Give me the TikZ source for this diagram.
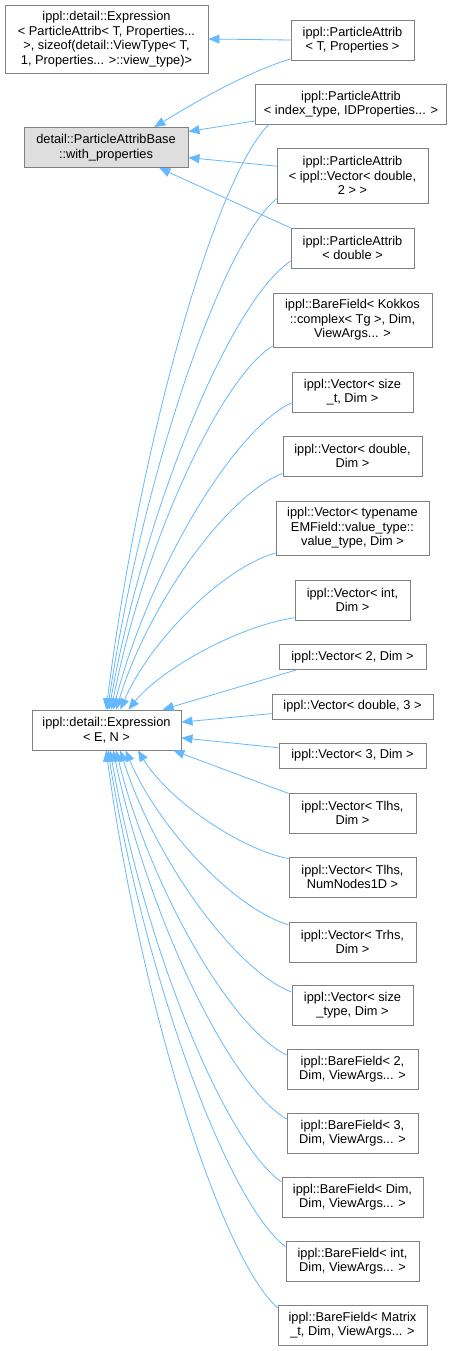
\documentclass[tikz,border=0pt]{standalone}
\usepackage{fontspec}
\setmainfont{Liberation Sans}
\usepackage{tikz}
\usepackage{xcolor}
\usetikzlibrary{
  positioning, arrows.meta, calc,
}
\definecolor{cEdge}    {HTML}{63B8FF}
\definecolor{cBorder}  {HTML}{808080}
\definecolor{cCurrent} {HTML}{DEDEDE}

\tikzset{
  cls/.style={draw=cBorder, line width=0.9pt, fill=white, inner sep=0pt,
    align=center, font=\fontsize{12.8}{14.6}\selectfont},
  cur/.style={cls, fill=cCurrent},
  inh/.style={cEdge, line width=0.8pt, -{Triangle[length=11pt, width=9pt]}},
}

\begin{document}
\begin{tikzpicture}[x=1pt, y=-1pt]
  \useasboundingbox (0,0) rectangle (455,1351);

  % base classes
  \node[cls, minimum width=203pt, minimum height=68pt] (tExpr) at (106.5,39)
    {ippl::detail::Expression\\< ParticleAttrib< T, Properties...\\>, sizeof(detail::ViewType< T,\\1, Properties... >::view\_type)>};
  \node[cur, minimum width=164pt, minimum height=40pt] (paBase) at (106,147.5)
    {detail::ParticleAttribBase\\::with\_properties};
  \node[cls, minimum width=149pt, minimum height=40pt] (expr) at (106.5,730)
    {ippl::detail::Expression\\< E, N >};

  % derived classes
  \node[cls, minimum width=123pt, minimum height=40pt] (paTP) at (352.5,40)
    {ippl::ParticleAttrib\\< T, Properties >};
  \node[cls, minimum width=191pt, minimum height=40pt] (paIdx) at (351,104)
    {ippl::ParticleAttrib\\< index\_type, IDProperties... >};
  \node[cls, minimum width=151pt, minimum height=55pt] (paVec) at (352.5,175.5)
    {ippl::ParticleAttrib\\< ippl::Vector< double,\\2 > >};
  \node[cls, minimum width=123pt, minimum height=40pt] (paDbl) at (352.5,248)
    {ippl::ParticleAttrib\\< double >};
  \node[cls, minimum width=159pt, minimum height=54pt] (bfKok) at (352.5,320)
    {ippl::BareField< Kokkos\\::complex< Tg >, Dim,\\ViewArgs... >};
  \node[cls, minimum width=121pt, minimum height=40pt] (vSizeT) at (352.5,392)
    {ippl::Vector< size\\\_t, Dim >};
  \node[cls, minimum width=139pt, minimum height=40pt] (vDblDim) at (352.5,456)
    {ippl::Vector< double,\\Dim >};
  \node[cls, minimum width=153pt, minimum height=54pt] (vTypename) at (352.5,528)
    {ippl::Vector< typename\\EMField::value\_type::\\value\_type, Dim >};
  \node[cls, minimum width=115pt, minimum height=40pt] (vInt) at (352.5,600)
    {ippl::Vector< int,\\Dim >};
  \node[cls, minimum width=147pt, minimum height=25pt] (v2Dim) at (352.5,657)
    {ippl::Vector< 2, Dim >};
  \node[cls, minimum width=161pt, minimum height=25pt] (vDbl3) at (352.5,706.5)
    {ippl::Vector< double, 3 >};
  \node[cls, minimum width=147pt, minimum height=25pt] (v3Dim) at (352.5,755.5)
    {ippl::Vector< 3, Dim >};
  \node[cls, minimum width=127pt, minimum height=40pt] (vTlhsDim) at (352.5,813)
    {ippl::Vector< Tlhs,\\Dim >};
  \node[cls, minimum width=127pt, minimum height=40pt] (vTlhsNN) at (352.5,877)
    {ippl::Vector< Tlhs,\\NumNodes1D >};
  \node[cls, minimum width=127pt, minimum height=40pt] (vTrhs) at (352.5,942)
    {ippl::Vector< Trhs,\\Dim >};
  \node[cls, minimum width=121pt, minimum height=40pt] (vSizeType) at (352.5,1005)
    {ippl::Vector< size\\\_type, Dim >};
  \node[cls, minimum width=131pt, minimum height=40pt] (bf2) at (352.5,1069)
    {ippl::BareField< 2,\\Dim, ViewArgs... >};
  \node[cls, minimum width=131pt, minimum height=40pt] (bf3) at (352.5,1133)
    {ippl::BareField< 3,\\Dim, ViewArgs... >};
  \node[cls, minimum width=141pt, minimum height=40pt] (bfDim) at (352.5,1197)
    {ippl::BareField< Dim,\\Dim, ViewArgs... >};
  \node[cls, minimum width=133pt, minimum height=40pt] (bfInt) at (352.5,1261)
    {ippl::BareField< int,\\Dim, ViewArgs... >};
  \node[cls, minimum width=149pt, minimum height=40pt] (bfMat) at (352.5,1325)
    {ippl::BareField< Matrix\\\_t, Dim, ViewArgs... >};

  % inheritance edges
  \draw[inh] (paTP.west) -- (tExpr.east);
  \draw[inh] (paTP.197) .. controls +(-50,15) and +(25,-15) .. (paBase.23);
  \draw[inh] (paIdx.190) -- (paBase.11);
  \draw[inh] (paVec.173) -- (paBase.-7);
  \draw[inh] (paDbl.162) -- (paBase.-21);

  \draw[inh] (paIdx.194) .. controls +(-54,53) and +(33,-264) .. (expr.91);
  \draw[inh] (paVec.197) .. controls +(-56,46) and +(34,-230) .. (expr.87);
  \draw[inh] (paDbl.192) .. controls +(-60,40) and +(36,-202) .. (expr.83);
  \draw[inh] (bfKok.198) .. controls +(-53,33) and +(32,-164) .. (expr.77);
  \draw[inh] (vSizeT.190) .. controls +(-59,28) and +(36,-138) .. (expr.72);
  \draw[inh] (vDblDim.194) .. controls +(-55,21) and +(33,-107) .. (expr.65);
  \draw[inh] (vTypename.198) .. controls +(-51,14) and +(31,-71) .. (expr.56);
  \draw[inh] (vInt.197) .. controls +(-55,8) and +(33,-41) .. (expr.43);
  \draw[inh] (v2Dim.193) -- (expr.20);
  \draw[inh] (vDbl3.185) -- (expr.6);
  \draw[inh] (v3Dim.174) -- (expr.-6);
  \draw[inh] (vTlhsDim.163) -- (expr.-17);
  \draw[inh] (vTlhsNN.164) .. controls +(-50,-10) and +(30,49) .. (expr.-33);
  \draw[inh] (vTrhs.165) .. controls +(-54,-16) and +(33,78) .. (expr.-47);
  \draw[inh] (vSizeType.168) .. controls +(-57,-22) and +(34,108) .. (expr.-56);
  \draw[inh] (bf2.168) .. controls +(-56,-27) and +(34,137) .. (expr.-65);
  \draw[inh] (bf3.168) .. controls +(-57,-33) and +(35,166) .. (expr.-72);
  \draw[inh] (bfDim.168) .. controls +(-57,-39) and +(34,194) .. (expr.-80);
  \draw[inh] (bfInt.168) .. controls +(-59,-45) and +(36,223) .. (expr.-86);
  \draw[inh] (bfMat.167) .. controls +(-57,-50) and +(34,251) .. (expr.-91);
\end{tikzpicture}
\end{document}
